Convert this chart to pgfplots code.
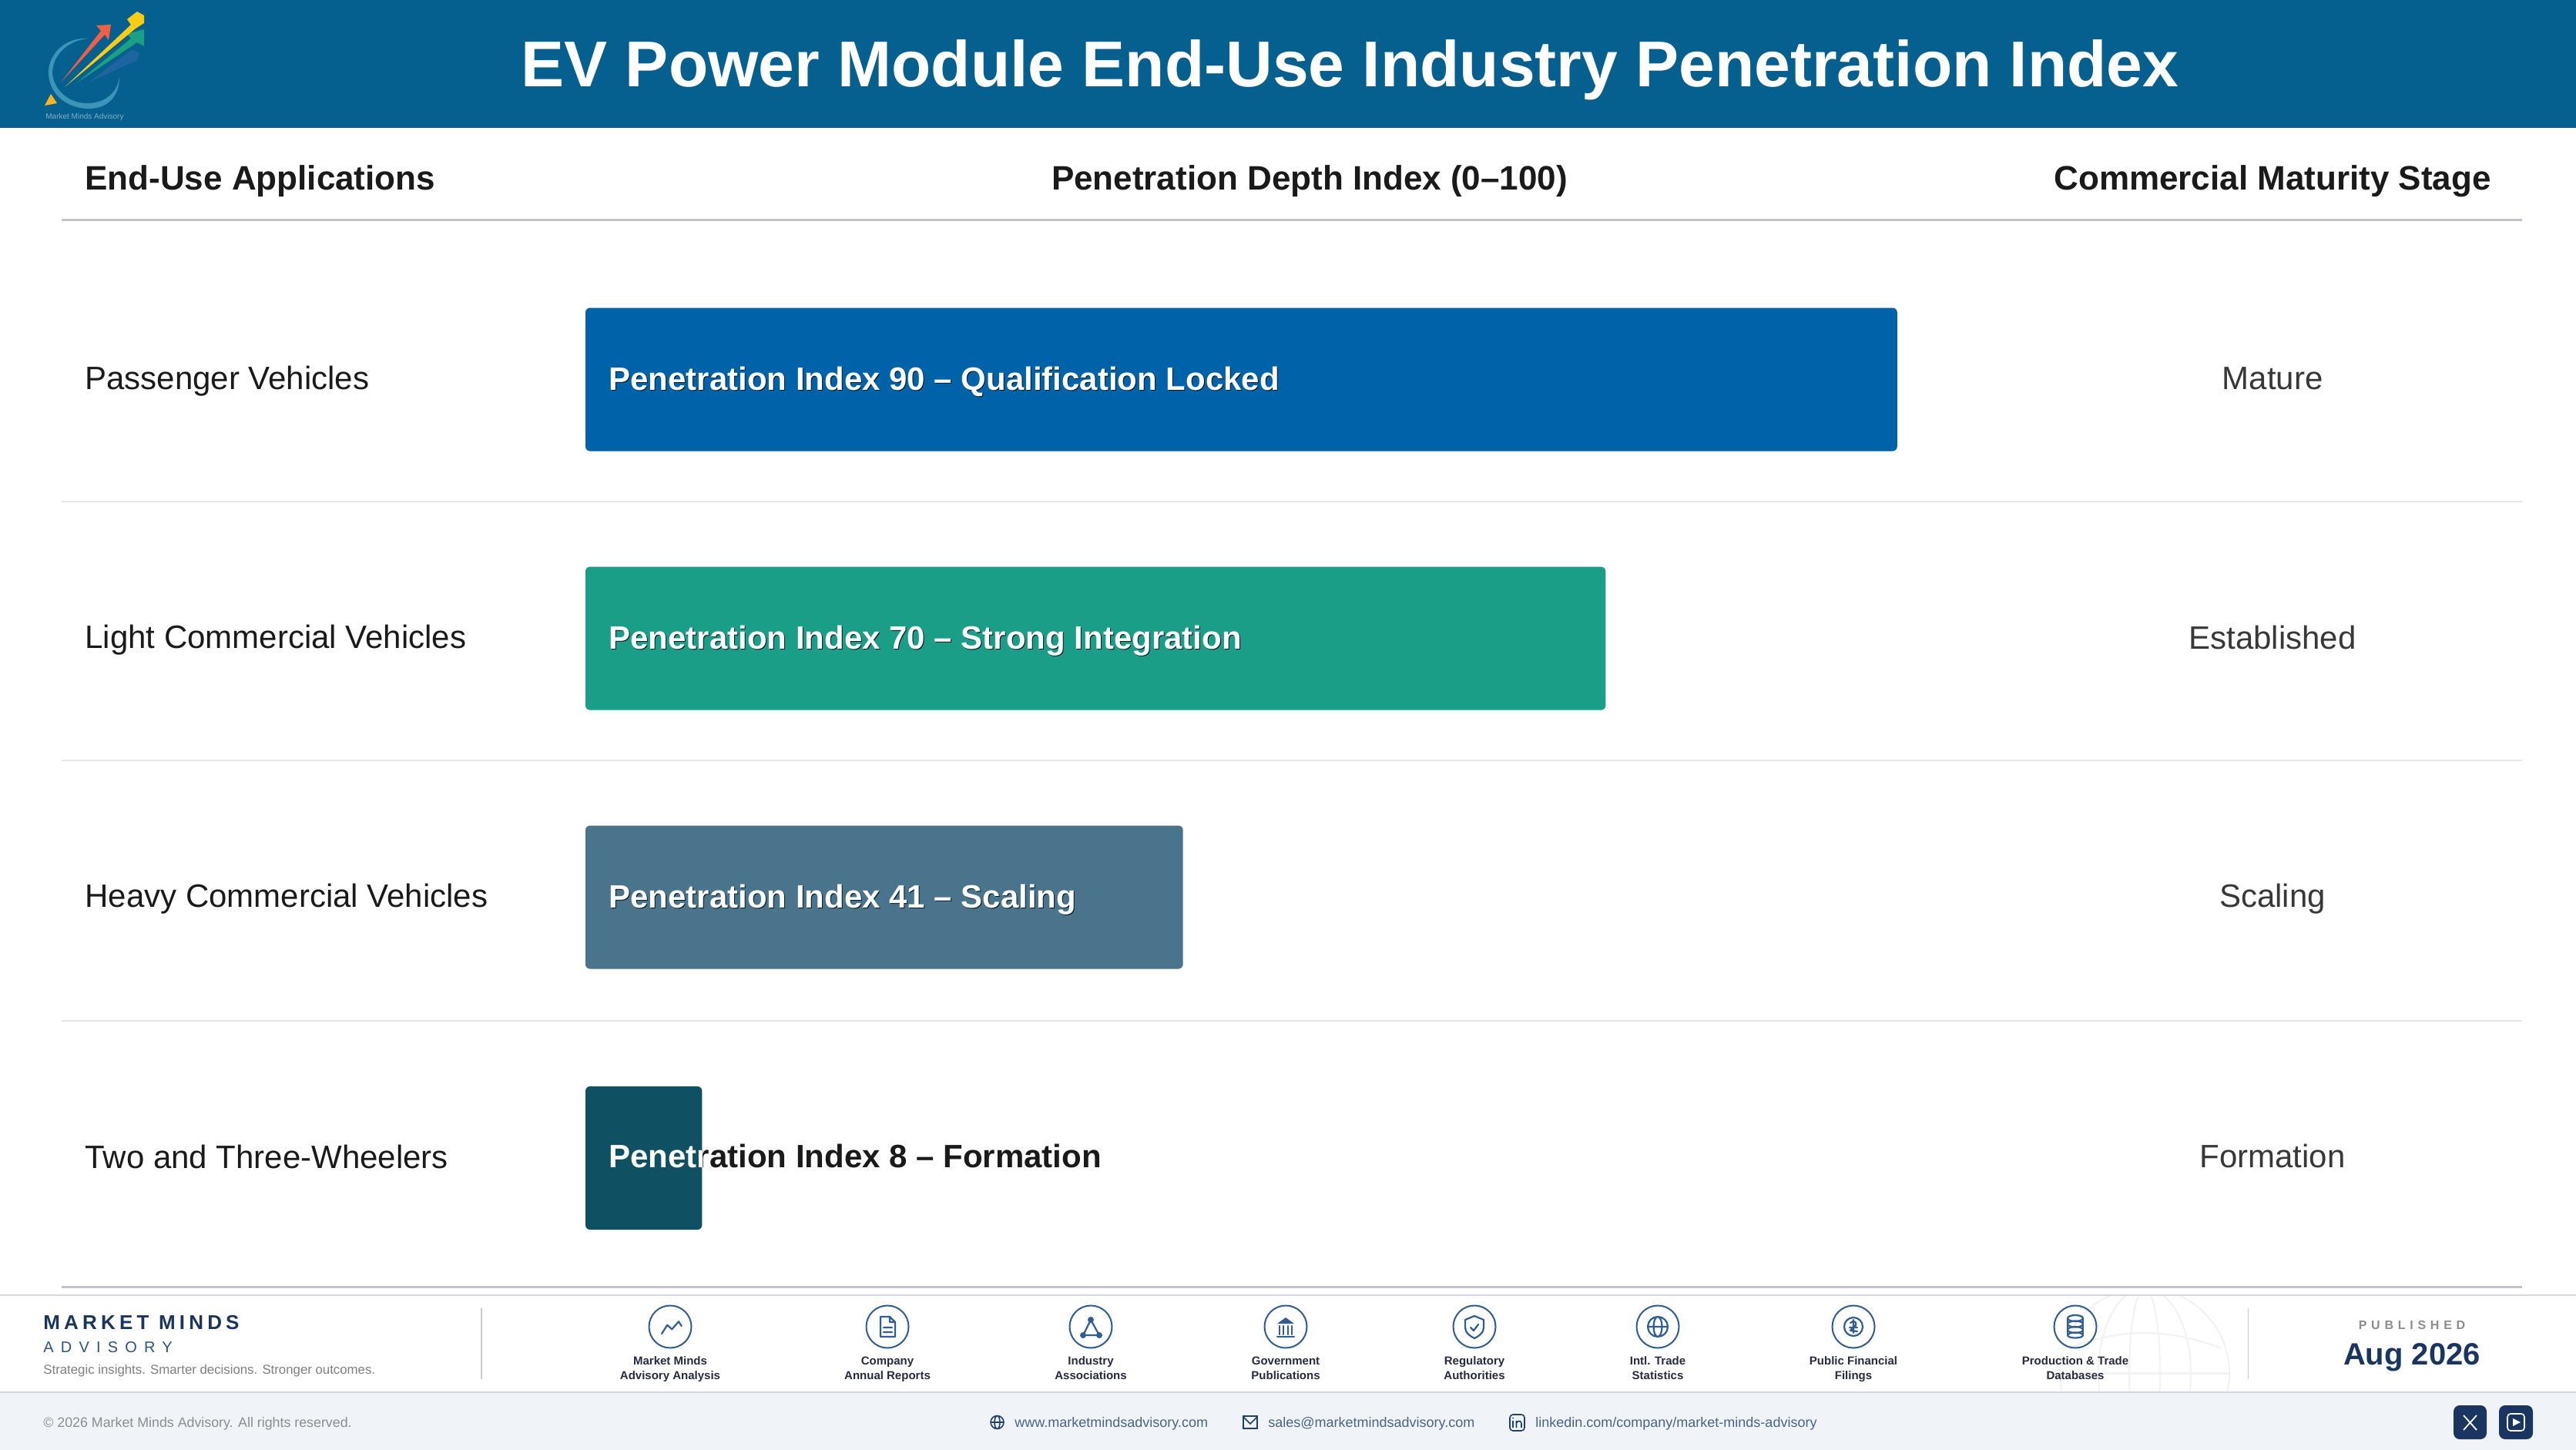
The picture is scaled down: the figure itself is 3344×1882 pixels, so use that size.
\documentclass[border=0pt]{standalone}
\usepackage{fontspec}
\usepackage{pgfplots}
\pgfplotsset{compat=1.18}
\setmainfont{Liberation Sans}
\newcommand\fs[1]{\fontsize{#1pt}{#1pt}\selectfont}
\definecolor{hdr}{HTML}{05608F}
\definecolor{barA}{HTML}{0062A8}
\definecolor{barB}{HTML}{1A9E88}
\definecolor{barC}{HTML}{4A748C}
\definecolor{barD}{HTML}{0F5062}
\definecolor{navy}{HTML}{1A3560}
\definecolor{ic}{HTML}{2F5D94}
\definecolor{rulec}{HTML}{C2C2CA}
\definecolor{thinc}{HTML}{E6E6EA}
\definecolor{band}{HTML}{D4D6E4}
\definecolor{foot}{HTML}{F0F4F9}
\definecolor{ink}{HTML}{1A1A1A}
\definecolor{lab}{HTML}{262B40}
\definecolor{con}{HTML}{4A6288}
\begin{document}
\begin{tikzpicture}[x=0.5pt,y=-0.5pt]
\useasboundingbox (0,0) rectangle (3344,1882);
\fill[white] (0,0) rectangle (3344,1882);
% header
\fill[hdr] (0,0) rectangle (3344,166);
\node[white,anchor=base,inner sep=0pt,font=\fs{42}\bfseries] at (1752.5,112.5) {EV Power Module End-Use Industry Penetration Index};
% logo
\fill[color={rgb,255:red,62;green,147;blue,184}] (115,50) .. controls (80,48) and (62,75) .. (63,95) .. controls (64,125) and (90,141) .. (115,141) .. controls (140,141) and (155,125) .. (155,100) .. controls (152,122) and (135,134) .. (113,134) .. controls (90,134) and (70,118) .. (68,95) .. controls (68,72) and (88,52) .. (115,50) -- cycle;
\fill[color={rgb,255:red,30;green,100;blue,160}] (115,107) -- (170,65) -- (181,68) -- (178,78) -- cycle;
\fill[color={rgb,255:red,240;green,95;blue,70}] (79,107) -- (131,40) -- (125,33) -- (144,32) -- (141,52) -- (136,45) -- cycle;
\fill[color={rgb,255:red,26;green,160;blue,130}] (99,108) -- (170,50) -- (165,44) -- (187,38) -- (187,60) -- (178,55) -- cycle;
\fill[color={rgb,255:red,252;green,204;blue,20}] (84,113) -- (170,32) -- (165,25) -- (178,15) -- (187,20) -- (187,30) -- (176,37) -- cycle;
\fill[color={rgb,255:red,252;green,180;blue,30}] (66,122) -- (74,134) -- (58,137) -- cycle;
\node[anchor=base west,inner sep=0pt,text=white!50!hdr,font=\fs{5}] at (59,155) {Market Minds Advisory};
% table header
\node[anchor=base west,inner sep=0pt,text=ink,font=\fs{22}\bfseries] at (110,246.5) {End-Use Applications};
\node[anchor=base,inner sep=0pt,text=ink,font=\fs{22}\bfseries] at (1700,246.5) {Penetration Depth Index (0--100)};
\node[anchor=base,inner sep=0pt,text=ink,font=\fs{22}\bfseries] at (2950,246.5) {Commercial Maturity Stage};
\draw[rulec,line width=1.5pt] (80,286) -- (3274,286);
\foreach \y in {651,987,1325}{\draw[thinc,line width=1pt] (80,\y) -- (3274,\y);}
\draw[rulec,line width=1.5pt] (80,1670) -- (3274,1670);
% chart
\begin{axis}[
  at={(380pt,-143.5pt)},anchor=north west,
  scale only axis,width=946pt,height=690.5pt,
  xmin=0,xmax=100,ymin=287,ymax=1668,y dir=reverse,
  xbar,bar width=93pt,bar shift=0pt,
  axis line style={draw=none},
  xtick=\empty,
  ytick={492.5,828.6,1164.5,1503},
  yticklabels={Passenger Vehicles,Light Commercial Vehicles,Heavy Commercial Vehicles,Two and Three-Wheelers},
  major tick length=0pt,
  ytick style={draw=none},
  yticklabel style={anchor=west,inner sep=0pt,xshift=-325pt,yshift=-1.3pt,text=ink,font=\fs{21},text height=15pt,text depth=4.5pt},
]
\addplot[draw=none,fill=barA,rounded corners=3pt] coordinates {(90,492.5)};
\addplot[draw=none,fill=barB,rounded corners=3pt] coordinates {(70,828.6)};
\addplot[draw=none,fill=barC,rounded corners=3pt] coordinates {(41,1164.5)};
\addplot[draw=none,fill=barD,rounded corners=3pt] coordinates {(8,1503)};
\end{axis}
% bar labels
\tikzset{bl/.style={anchor=base west,inner sep=0pt,font=\fs{21}\bfseries}}
\foreach \y/\t in {506.5/Penetration Index 90 -- Qualification Locked,842.5/Penetration Index 70 -- Strong Integration,1178/Penetration Index 41 -- Scaling}{
\node[bl,text=black!75!hdr] at (791,\y+1) {\t};
\node[bl,white] at (790,\y) {\t};}
\begin{scope}\clip (911.5,1400) rectangle (1600,1600);
\node[bl,ink] at (790,1515.7) {Penetration Index 8 -- Formation};\end{scope}
\begin{scope}\clip (760,1400) rectangle (911.5,1600);
\node[bl,white] at (790,1515.7) {Penetration Index 8 -- Formation};\end{scope}
% right col
\foreach \y/\t in {505.5/Mature,842.5/Established,1177.5/Scaling,1515.7/Formation}{
\node[anchor=base,inner sep=0pt,text=black!78,font=\fs{21}] at (2950,\y) {\t};}
% footer
\begin{scope}
\clip (2500,1681) rectangle (3000,1807);
\draw[black!5,line width=1pt] (2784,1782) circle (110);
\draw[black!5,line width=1pt] (2784,1782) ellipse [x radius=60,y radius=110];
\draw[black!5,line width=1pt] (2784,1782) ellipse [x radius=20,y radius=110];
\draw[black!5,line width=1.5pt] (2674,1782) -- (2894,1782);
\draw[black!5,line width=1pt] (2684,1750) to[bend left=20] (2884,1750);
\end{scope}
\draw[band,line width=1pt] (0,1681) -- (3344,1681);
\fill[foot] (0,1807) rectangle (3344,1882);
\draw[band,line width=1pt] (0,1807) -- (3344,1807);
\node[anchor=base west,inner sep=0pt,text=navy,font=\fs{13}\bfseries\addfontfeature{LetterSpace=20}] at (56,1725) {MARKET MINDS};
\node[anchor=base west,inner sep=0pt,text=ic!90!black,font=\fs{10}\addfontfeature{LetterSpace=46}] at (56,1755.5) {ADVISORY};
\node[anchor=base west,inner sep=0pt,text=black!50,font=\fs{8.4}] at (56,1783.5) {Strategic insights. Smarter decisions. Stronger outcomes.};
\draw[black!20,line width=0.6pt] (625,1698) -- (625,1790);
\draw[black!20,line width=0.6pt] (2918.5,1698) -- (2918.5,1790);
\tikzset{il/.style={anchor=base,inner sep=0pt,text=lab,align=center,font=\fs{7.5}\bfseries}}
\foreach \x/\a/\b in {870/Market Minds/Advisory Analysis,1152/Company/Annual Reports,1416/Industry/Associations,1669/Government/Publications,1914/Regulatory/Authorities,2152/Intl. Trade/Statistics,2406/Public Financial/Filings,2694/Production \& Trade/Databases}{
\draw[ic,line width=1pt] (\x,1722) circle (27.5);
\node[il] at (\x,1771.7) {\a};
\node[il] at (\x,1790) {\b};}
\begin{scope}[ic,line width=1.1pt,line join=round,line cap=round]
% 1 zigzag
\draw[shift={(870,1722)}] (-11,9) -- (-3.7,-2.3) -- (2.2,3.3) -- (11,-6.7) -- (14.7,-1);
% 2 doc
\draw[shift={(1152,1722)}] (-9,-13) -- (3,-13) -- (10,-6) -- (10,13) -- (-9,13) -- cycle (3,-13) -- (3,-6) -- (10,-6) (-5,1) -- (6,1) (-5,7) -- (6,7);
% 3 triangle
\begin{scope}[shift={(1416,1722)}]
\draw (0,-9) -- (-10,11) -- (11,11) -- cycle;
\fill (0,-9) circle (4) (-10,11) circle (4) (11,11) circle (4);
\end{scope}
% 4 bank
\begin{scope}[shift={(1669,1722)}]
\fill (0,-12) -- (11,-4) -- (-11,-4) -- cycle;
\foreach \d in {-8,-3,3,8}{\draw (\d,-1) -- (\d,10);}
\draw[line width=1.4pt] (-11,13) -- (11,13);
\end{scope}
% 5 shield
\begin{scope}[shift={(1914,1722)}]
\draw (0,-14) -- (12,-9) -- (12,1) .. controls (12,8) and (6,12) .. (0,15) .. controls (-6,12) and (-12,8) .. (-12,1) -- (-12,-9) -- cycle;
\draw (-5,1) -- (-1,5) -- (5,-3);
\end{scope}
% 6 globe
\begin{scope}[shift={(2152,1722)}]
\draw (0,0) circle (13) (0,0) ellipse [x radius=5.5,y radius=13] (-13,0) -- (13,0);
\end{scope}
% 7 coin
\begin{scope}[shift={(2406,1722)}]
\draw (0,0) circle (12);
\draw (-4,-5) .. controls (0,-9) and (5,-6) .. (3,-2) -- (-4,5) -- (5,6) (-5,1) -- (5,1) (0,-9) -- (0,8);
\end{scope}
% 8 database
\begin{scope}[shift={(2694,1722)}]
\draw (-10,-11) -- (-10,11) (10,-11) -- (10,11);
\draw (0,-11) ellipse [x radius=10,y radius=4];
\draw (0,-3.5) ellipse [x radius=10,y radius=4];
\draw (0,4) ellipse [x radius=10,y radius=4];
\draw (0,11) ellipse [x radius=10,y radius=3.5];
\end{scope}
\end{scope}
\node[anchor=base,inner sep=0pt,text=black!45,font=\fs{8}\bfseries\addfontfeature{LetterSpace=36}] at (3131,1725.5) {PUBLISHED};
\node[anchor=base,inner sep=0pt,text=navy,font=\fs{20}\bfseries] at (3131,1771) {Aug 2026};
\node[anchor=base west,inner sep=0pt,text=black!45,font=\fs{8.9}] at (56,1852) {\textcopyright{} 2026 Market Minds Advisory. All rights reserved.};
\tikzset{cl/.style={anchor=base west,inner sep=0pt,text=con,font=\fs{9}}}
\node[cl] at (1317,1852) {www.marketmindsadvisory.com};
\node[cl] at (1646,1852) {sales@marketmindsadvisory.com};
\node[cl] at (1993,1852) {linkedin.com/company/market-minds-advisory};
\begin{scope}[navy!70!ic,line width=0.8pt]
\draw (1294.5,1846) circle (8.5) (1294.5,1846) ellipse [x radius=3.5,y radius=8.5] (1286,1846) -- (1303,1846);
\draw (1614,1838) rectangle (1632,1854) (1614,1839) -- (1623,1848) -- (1632,1839);
\draw[rounded corners=2pt] (1960,1836) rectangle (1979,1857);
\draw (1964,1844) -- (1964,1853) (1968.5,1853) -- (1968.5,1844) (1968.5,1847) .. controls (1971,1843) and (1975,1844) .. (1975,1848) -- (1975,1853);
\fill (1964,1840.5) circle (1);
\end{scope}
\fill[navy,rounded corners=4pt] (3185,1824) rectangle (3228,1868);
\fill[navy,rounded corners=4pt] (3244,1824) rectangle (3288,1868);
\draw[white,line width=0.9pt] (3198,1837) -- (3215,1856) (3215,1837) -- (3198,1856);
\draw[white,line width=0.8pt,rounded corners=2pt] (3255,1835) rectangle (3277,1857);
\fill[white] (3262,1841) -- (3272,1846) -- (3262,1851) -- cycle;
\end{tikzpicture}
\end{document}
